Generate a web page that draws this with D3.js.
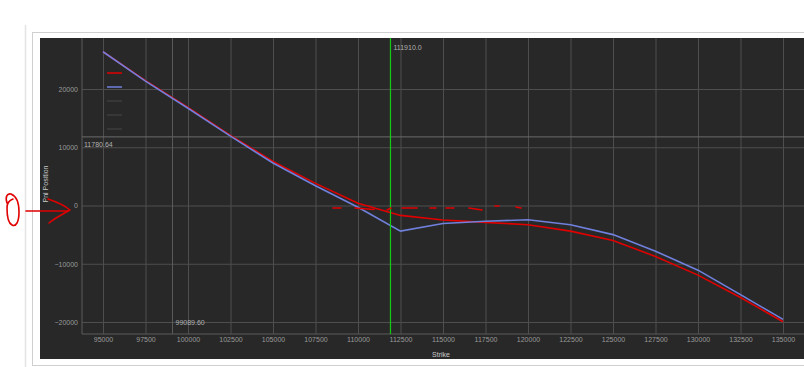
<!DOCTYPE html>
<html>
<head>
<meta charset="utf-8">
<script src="https://cdn.jsdelivr.net/npm/d3@7"></script>
<style>
  body { margin: 0; background: #fff; }
  svg text { font-family: "Liberation Sans", Arial, sans-serif; }
</style>
</head>
<body>
<div id="chart"></div>
<script>
// strikes and the two pnl curves
const strikes = [95000, 97500, 100000, 102500, 105000, 107500, 110000, 112500, 115000,
                 117500, 120000, 122500, 125000, 127500, 130000, 132500, 135000];
const pnlRed  = [26400, 21450, 16850, 12050, 7550, 3800, 400, -1700, -2500,
                 -2900, -3300, -4400, -6000, -8750, -11950, -15800, -19950];
const pnlBlue = [26400, 21350, 16700, 11900, 7300, 3400, -300, -4400, -3100,
                 -2700, -2450, -3300, -5000, -7850, -11100, -15300, -19550];
const yTicks = [-20000, -10000, 0, 10000, 20000];
const cursorX = 111910.0, cursorY = 11780.64, cursorX2 = 99089.60;
const legendColors = ['#e00000', '#7080dd', '#3c3c3c', '#3c3c3c', '#3c3c3c'];

const W = 804, H = 367;
const svg = d3.select('#chart').append('svg').attr('width', W).attr('height', H);

// outer frame
svg.append('line').attr('x1', 25.5).attr('x2', 25.5).attr('y1', 25).attr('y2', H)
  .attr('stroke', '#e4e4e4').attr('stroke-width', 1.5);
svg.append('rect').attr('x', 32.5).attr('y', 32.5).attr('width', W).attr('height', 333)
  .attr('fill', '#fff').attr('stroke', '#cfcfcf');
svg.append('rect').attr('x', 40).attr('y', 38).attr('width', W - 40).attr('height', 321)
  .attr('fill', '#282828');

const plotLeft = 82, plotBottom = 334, plotTop = 38;
const x = d3.scaleLinear([95000, 135000], [103, 783]);
const y = d3.scaleLinear([-20000, 20000], [322, 89]);

// x axis with grid
const gx = svg.append('g').attr('transform', `translate(0,${plotBottom})`)
  .call(d3.axisBottom(x).tickValues(strikes).tickSize(-(plotBottom - plotTop)).tickPadding(3).tickFormat(d3.format('d')));
gx.select('.domain').remove();
gx.selectAll('line').attr('stroke', '#4e4e4e');
gx.selectAll('text').attr('fill', '#9a9a9a').attr('font-size', 7);

const gy = svg.append('g').attr('transform', `translate(${plotLeft},0)`)
  .call(d3.axisLeft(y).tickValues(yTicks).tickSize(-(W - plotLeft)).tickPadding(4).tickFormat(d3.format('d')));
gy.select('.domain').remove();
gy.selectAll('line').attr('stroke', '#4e4e4e');
gy.selectAll('text').attr('fill', '#9a9a9a').attr('font-size', 7);

// axis lines
svg.append('line').attr('x1', plotLeft).attr('x2', plotLeft).attr('y1', plotTop).attr('y2', plotBottom).attr('stroke', '#5a5a5a');
svg.append('line').attr('x1', plotLeft).attr('x2', W).attr('y1', plotBottom).attr('y2', plotBottom).attr('stroke', '#5a5a5a');

// crosshairs
svg.append('line').attr('x1', plotLeft).attr('x2', W).attr('y1', y(cursorY)).attr('y2', y(cursorY))
  .attr('stroke', '#6a6a6a');
svg.append('line').attr('x1', x(cursorX2)).attr('x2', x(cursorX2)).attr('y1', plotTop).attr('y2', plotBottom)
  .attr('stroke', '#5c5c5c');
svg.append('text').attr('x', plotLeft + 2).attr('y', y(cursorY) + 10).attr('fill', '#b0b0b0')
  .attr('font-size', 7).text(cursorY.toFixed(2));
svg.append('text').attr('x', x(cursorX2) + 3).attr('y', y(-20000) + 3).attr('fill', '#b0b0b0')
  .attr('font-size', 7).text(cursorX2.toFixed(2));

// curves
const line = d3.line().x((d, i) => x(strikes[i])).y(d => y(d));
svg.append('path').datum(pnlRed).attr('d', line).attr('fill', 'none')
  .attr('stroke', '#e00000').attr('stroke-width', 1.6);
svg.append('path').datum(pnlBlue).attr('d', line).attr('fill', 'none')
  .attr('stroke', '#7080dd').attr('stroke-width', 1.6);

// green cursor
svg.append('line').attr('x1', x(cursorX)).attr('x2', x(cursorX)).attr('y1', plotTop).attr('y2', plotBottom)
  .attr('stroke', '#11cc11').attr('stroke-width', 1.2);
svg.append('text').attr('x', x(cursorX) + 3).attr('y', 50).attr('fill', '#b0b0b0')
  .attr('font-size', 7).text(cursorX.toFixed(1));

// legend
svg.selectAll('.leg').data(legendColors).join('line')
  .attr('x1', 107).attr('x2', 122)
  .attr('y1', (d, i) => 73 + i * 14).attr('y2', (d, i) => 73 + i * 14)
  .attr('stroke', d => d).attr('stroke-width', 1.5);

// axis titles
svg.append('text').attr('x', 441).attr('y', 357).attr('text-anchor', 'middle')
  .attr('fill', '#c8c8c8').attr('font-size', 7).text('Strike');
svg.append('text').attr('transform', 'translate(48,184) rotate(-90)').attr('text-anchor', 'middle')
  .attr('fill', '#c8c8c8').attr('font-size', 7).text('Pnl Position');

// hand-drawn red annotation
const ink = svg.append('g').attr('fill', 'none').attr('stroke', '#e00000')
  .attr('stroke-width', 1.6).attr('stroke-linecap', 'round').attr('stroke-linejoin', 'round');
ink.append('path').attr('d', 'M7,203 C5,197 7,193 11,194 C16,196 19,203 19,212 C19,222 16,227 12,225 C8,223 7,216 7,208 C7,203 10,200 13,199');
ink.append('path').attr('d', 'M26,211 L68,211');
ink.append('path').attr('d', 'M48,199 C57,202 64,205 70,210 C63,214 55,218 49,223');
[[333, 208, 341, 208], [355, 208, 374, 209.5], [387, 210, 391, 208], [402, 208, 417, 208],
 [430, 208, 436, 208], [446, 208, 454, 208], [469, 208, 482, 210], [495, 206, 499, 206], [516, 207, 521, 208]]
  .forEach(s => ink.append('line').attr('x1', s[0]).attr('y1', s[1]).attr('x2', s[2]).attr('y2', s[3]));
</script>
</body>
</html>
